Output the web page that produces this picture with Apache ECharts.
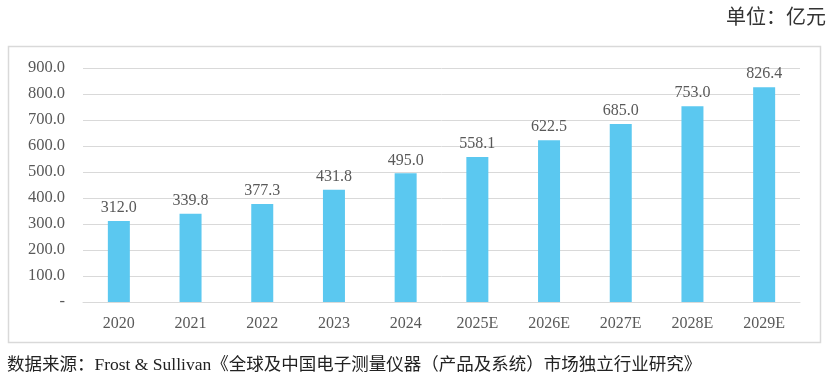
<!DOCTYPE html>
<html><head><meta charset="utf-8">
<script src="https://cdn.jsdelivr.net/npm/echarts@6/dist/echarts.min.js"></script>
<style>html,body{margin:0;padding:0;background:#fff}#c{width:830px;height:381px}</style>
</head><body><div id="c"></div>
<script>
const categories = ['2020','2021','2022','2023','2024','2025E','2026E','2027E','2028E','2029E'];
const values = [312.0, 339.8, 377.3, 431.8, 495.0, 558.1, 622.5, 685.0, 753.0, 826.4];
const unitText = '单位：亿元';
const sourceText = '数据来源：Frost & Sullivan《全球及中国电子测量仪器（产品及系统）市场独立行业研究》';
const fontFam = '"Liberation Serif","Noto Sans CJK SC",serif';
const chart = echarts.init(document.getElementById('c'));
chart.setOption({
  animation: false,
  grid: {left: 83, right: 30, top: 68, bottom: 79, containLabel: false},
  graphic: [
    {type:'rect', shape:{x:8.5,y:46.5,width:812,height:296}, style:{fill:'none',stroke:'#d9d9d9',lineWidth:1.5}, z:-1},
    {type:'text', right: 4, top: 9, style:{text: unitText, font:'20px '+fontFam, fill:'#333'}},
    {type:'text', left: 7, top: 357, style:{text: sourceText, font:'17.5px '+fontFam, fill:'#222'}}
  ],
  xAxis: {type:'category', data: categories,
    axisLine:{lineStyle:{color:'#d9d9d9'}}, axisTick:{show:false},
    axisLabel:{color:'#595959', fontFamily: fontFam, fontSize:16, margin:14}},
  yAxis: {type:'value', min:0, max:900, interval:100,
    axisLine:{show:false}, axisTick:{show:false},
    splitLine:{lineStyle:{color:'#d9d9d9'}},
    axisLabel:{color:'#595959', fontFamily: fontFam, fontSize:16.5, margin:18,
      formatter: v => v === 0 ? '-' : v.toFixed(1)}},
  series: [{type:'bar', data: values, barWidth: 22,
    itemStyle:{color:'#5BC8F0'},
    label:{show:true, position:'top', distance:5, color:'#595959', fontFamily: fontFam, fontSize:16,
      formatter: p => p.value.toFixed(1)}}]
});
</script></body></html>
